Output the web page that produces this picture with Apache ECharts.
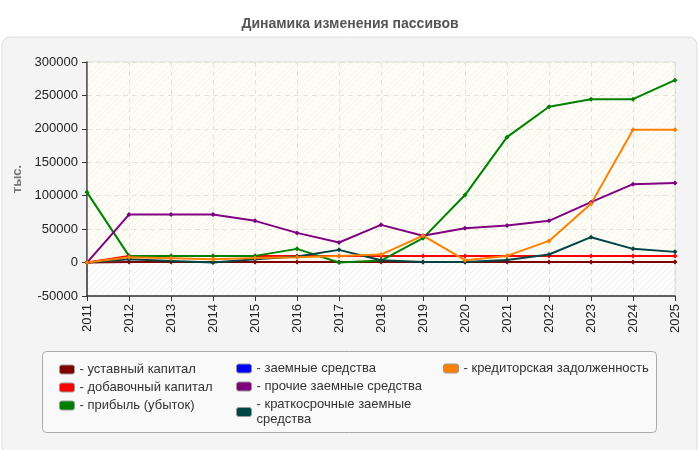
<!DOCTYPE html>
<html>
<head>
<meta charset="utf-8">
<script src="https://cdn.jsdelivr.net/npm/echarts@6/dist/echarts.min.js"></script>
<style>
  html, body { margin: 0; padding: 0; background: #fff; }
  #chart { width: 700px; height: 450px; }
</style>
</head>
<body>
<div id="chart"></div>
<script>
// годы
var years = ['2011', '2012', '2013', '2014', '2015', '2016', '2017', '2018',
    '2019', '2020', '2021', '2022', '2023', '2024', '2025'];

// значения по статьям (тыс.)
var ustavny = [0, 1000, 1000, 1000, 1000, 1000, 1000, 1000, 1000, 1000, 1000, 1000, 1000, 1000, 1000];
var dobavochny = [0, 10000, 10000, 10000, 10000, 10000, 10000, 10000, 10000, 10000, 10000, 10000, 10000, 10000, 10000];
var pribyl = [105000, 10000, 10000, 10000, 10000, 20500, 0, 3000, 36500, 101000, 187600, 233000, 244400, 244400, 272800];
var zaemnye = [null, null, null, null, null, null, null, null, null, null, null, null, null, null, null];
var prochie = [0, 71800, 71800, 71800, 62400, 44400, 30000, 56400, 40000, 51400, 55400, 62400, 90300, 117300, 119200];
var kratkosrochnye = [0, 5000, 2500, 0, 5000, 9000, 19000, 3500, 1000, 1000, 4000, 12000, 38000, 20500, 16000];
var kreditorskaya = [0, 8000, 6500, 5000, 7000, 8000, 10000, 12000, 40200, 3500, 10000, 32400, 87800, 198500, 198500];

var yTicks = { min: -50000, max: 300000, interval: 50000 };

// штриховка фона
function makeHatch() {
    var c = document.createElement('canvas');
    c.width = 6;
    c.height = 6;
    var ctx = c.getContext('2d');
    ctx.fillStyle = '#ffffff';
    ctx.fillRect(0, 0, 6, 6);
    ctx.strokeStyle = '#ebebeb';
    ctx.lineWidth = 1;
    ctx.beginPath();
    ctx.moveTo(0, 6);
    ctx.lineTo(6, 0);
    ctx.moveTo(-1, 1);
    ctx.lineTo(1, -1);
    ctx.moveTo(5, 7);
    ctx.lineTo(7, 5);
    ctx.stroke();
    return c;
}

function line(name, data, color) {
    return {
        name: name,
        type: 'line',
        data: data,
        symbol: 'diamond',
        symbolSize: 5,
        showSymbol: true,
        itemStyle: { color: color },
        lineStyle: { color: color, width: 2 },
        emphasis: { disabled: true },
        animation: false
    };
}

var chart = echarts.init(document.getElementById('chart'));
var font = 'Liberation Sans, Arial, sans-serif';

var series = [
    line('уставный капитал', ustavny, '#800000'),
    line('добавочный капитал', dobavochny, '#ff0000'),
    line('прибыль (убыток)', pribyl, '#008000'),
    line('заемные средства', zaemnye, '#0000ff'),
    line('прочие заемные средства', prochie, '#800080'),
    line('краткосрочные заемные средства', kratkosrochnye, '#004545'),
    line('кредиторская задолженность', kreditorskaya, '#ff8000')
];
// светлая полоса выше нуля
series[0].markArea = {
    silent: true,
    itemStyle: { color: 'rgba(255,255,225,0.22)' },
    data: [[{ yAxis: 0 }, { yAxis: 300000 }]]
};

var legendBase = {
    orient: 'vertical',
    icon: 'roundRect',
    itemWidth: 15,
    itemHeight: 9,
    itemGap: 3,
    selectedMode: false,
    itemStyle: { borderColor: '#999', borderWidth: 1 },
    textStyle: { fontFamily: font, fontSize: 13, color: '#333', lineHeight: 15 },
    formatter: function (name) {
        if (name === 'краткосрочные заемные средства') {
            return '- краткосрочные заемные\nсредства';
        }
        return '- ' + name;
    }
};

chart.setOption({
    backgroundColor: '#ffffff',
    textStyle: { fontFamily: font },
    title: {
        text: 'Динамика изменения пассивов',
        left: 'center',
        top: 12,
        textStyle: { fontFamily: font, fontSize: 14, fontWeight: 'bold', color: '#555' }
    },
    graphic: [
        {
            type: 'rect', z: -10, silent: true,
            shape: { x: 2, y: 37, width: 695, height: 418, r: 8 },
            style: { fill: '#f4f4f4', stroke: '#dddddd', lineWidth: 1 }
        },
        {
            type: 'rect', z: -5, silent: true,
            shape: { x: 42.5, y: 351.5, width: 614, height: 81, r: 4 },
            style: { fill: '#f9f9f9', stroke: '#aaaaaa', lineWidth: 1 }
        }
    ],
    legend: [
        Object.assign({}, legendBase, {
            left: 54, top: 357,
            data: ['уставный капитал', 'добавочный капитал', 'прибыль (убыток)']
        }),
        Object.assign({}, legendBase, {
            left: 231, top: 356,
            data: ['заемные средства', 'прочие заемные средства', 'краткосрочные заемные средства']
        }),
        Object.assign({}, legendBase, {
            left: 438, top: 356,
            data: ['кредиторская задолженность']
        })
    ],
    grid: {
        left: 87, right: 25, top: 62, bottom: 154,
        show: true,
        backgroundColor: { image: makeHatch(), repeat: 'repeat' },
        borderColor: '#dddddd',
        borderWidth: 1
    },
    xAxis: {
        type: 'category',
        data: years,
        boundaryGap: false,
        axisLine: { onZero: false, lineStyle: { color: '#333', width: 1.5 } },
        axisTick: { show: true, length: 5, lineStyle: { color: '#333' } },
        axisLabel: { rotate: 90, color: '#222', fontSize: 13, margin: 8, fontFamily: font },
        splitLine: { show: true, lineStyle: { color: '#dcdcdc', type: [5, 4] } }
    },
    yAxis: {
        type: 'value',
        min: yTicks.min,
        max: yTicks.max,
        interval: yTicks.interval,
        name: 'тыс.',
        nameLocation: 'middle',
        nameRotate: 90,
        nameGap: 58,
        nameTextStyle: { color: '#777', fontSize: 13, fontWeight: 'bold', fontFamily: font },
        axisLine: { show: true, lineStyle: { color: '#333', width: 1.5 } },
        axisTick: { show: true, length: 5, lineStyle: { color: '#333' } },
        axisLabel: {
            color: '#222', fontSize: 13, margin: 9, fontFamily: font,
            formatter: function (v) { return String(v); }
        },
        splitLine: { show: true, lineStyle: { color: '#dcdcdc', type: [5, 4] } }
    },
    series: series
});
</script>
</body>
</html>
